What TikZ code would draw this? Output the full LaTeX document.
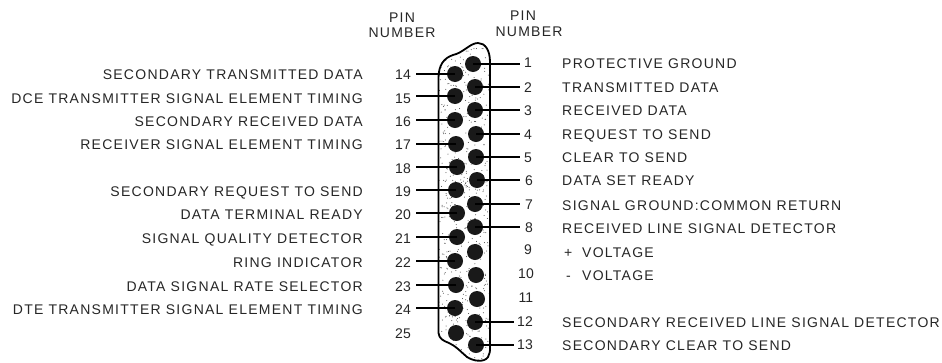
\documentclass[tikz,border=0pt]{standalone}
\usepackage{fontspec}
\setmainfont{Liberation Sans}
\newfontfamily\capsfont[LetterSpace=9]{Liberation Sans}
\tikzset{
	txt/.style={inner sep=0pt,text height=10pt,text depth=0pt,text=black!85,font=\fontsize{14}{16}\capsfont},
	num/.style={inner sep=0pt,text height=10pt,text depth=0pt,text=black!85,font=\fontsize{14}{16}\selectfont},
	pinhole/.style={circle,fill=black!90,minimum size=16pt,inner sep=0pt},
	wire/.style={line width=1.3pt,black}
}
\begin{document}
\begin{tikzpicture}[x=1pt,y=-1pt]
		\useasboundingbox (0,0) rectangle (942,362);
		
		%Shell
		\def\shellpath{(438.5,333) .. controls (439,339) and (444,341) .. (449,343) .. controls (456,346) and (461,352) .. (467,357) .. controls (473,361) and (484,363) .. (488,357) .. controls (490,354) and (490,351) .. (490,347) -- (490,62) .. controls (490,50) and (485,43) .. (478,43) .. controls (470,43) and (463,53) .. (453,55) .. controls (444,58) and (438.5,65) .. (438.5,78) -- cycle}
		\begin{scope}
			\clip \shellpath;
			\pgfmathsetseed{7}
			\foreach \i in {1,...,600}
			\fill[black!75] ({438+52*rnd},{45+315*rnd}) circle (0.5);
		\end{scope}
		\draw[line width=1.8pt,black] \shellpath;
		
		%Pins, top row
		\foreach \n/\x/\y/\e in {1/473/64/520,2/475/87/520,3/475/110/520,4/476/134/520,5/476/157/520,6/477/180/520,7/475/204/520,8/475/227/520,12/475/322/514,13/476/345/514}
		{
			\node[pinhole] (p\n) at (\x,\y) {};
			\coordinate (w\n) at (\e,\y);
			\draw[wire] (p\n.center) -- (w\n);
		}
		\foreach \n/\x/\y in {9/475/252,10/476/275,11/477/299}
		\node[pinhole] (p\n) at (\x,\y) {};
		
		%Pins, bottom row
		\foreach \n/\x/\y in {14/455/74,15/455/96,16/455/120,17/456/144,18/457/167,19/456/190,20/457/213,21/457/237,22/455/261,23/456/285,24/455/308}
		{
			\node[pinhole] (p\n) at (\x,\y) {};
			\coordinate (w\n) at (416,\y);
			\draw[wire] (p\n.center) -- (w\n);
		}
		\node[pinhole] (p25) at (456,333) {};
		
		%Pin numbers
		\foreach \n/\x/\y in {1/528/62,2/528/87,3/528/110,4/528/134,5/528/157,6/529/180,7/529/204,8/529/227,9/528/249,10/526/273,11/526/297,12/525/321,13/525/344}
		\node[num] (n\n) at (\x,\y) {\n};
		\foreach \n/\y in {14/74,15/98,16/121,17/144,18/168,19/191,20/214,21/238,22/262,23/286,24/309,25/333}
		\node[num] (n\n) at (403,\y) {\n};
		
		%Headers
		\node[txt] (pinl) at (402,17) {PIN};
		\node[txt] (numl) at (402,32) {NUMBER};
		\node[txt] (pinr) at (523,15) {PIN};
		\node[txt] (numr) at (529,31) {NUMBER};
		
		%Signal names, left
		\node[txt,anchor=east] (s14) at (363,74) {SECONDARY TRANSMITTED DATA};
		\node[txt,anchor=east] (s15) at (363,98) {DCE TRANSMITTER SIGNAL ELEMENT TIMING};
		\node[txt,anchor=east] (s16) at (363,121) {SECONDARY RECEIVED DATA};
		\node[txt,anchor=east] (s17) at (363,144) {RECEIVER SIGNAL ELEMENT TIMING};
		\node[txt,anchor=east] (s19) at (363,191) {SECONDARY REQUEST TO SEND};
		\node[txt,anchor=east] (s20) at (363,214) {DATA TERMINAL READY};
		\node[txt,anchor=east] (s21) at (363,238) {SIGNAL QUALITY DETECTOR};
		\node[txt,anchor=east] (s22) at (363,262) {RING INDICATOR};
		\node[txt,anchor=east] (s23) at (363,286) {DATA SIGNAL RATE SELECTOR};
		\node[txt,anchor=east] (s24) at (363,309) {DTE TRANSMITTER SIGNAL ELEMENT TIMING};
		
		%Signal names, right
		\node[txt,anchor=west] (s1) at (562,63) {PROTECTIVE GROUND};
		\node[txt,anchor=west] (s2) at (562,87) {TRANSMITTED DATA};
		\node[txt,anchor=west] (s3) at (562,110) {RECEIVED DATA};
		\node[txt,anchor=west] (s4) at (562,134) {REQUEST TO SEND};
		\node[txt,anchor=west] (s5) at (562,157) {CLEAR TO SEND};
		\node[txt,anchor=west] (s6) at (562,180) {DATA SET READY};
		\node[txt,anchor=west] (s7) at (562,205) {SIGNAL GROUND:COMMON RETURN};
		\node[txt,anchor=west] (s8) at (562,228) {RECEIVED LINE SIGNAL DETECTOR};
		\node[txt,anchor=west] (s9) at (564,252) {+};
		\node[txt,anchor=west] (v9) at (582,252) {VOLTAGE};
		\node[txt,anchor=west] (s10) at (566,275) {-};
		\node[txt,anchor=west] (v10) at (582,275) {VOLTAGE};
		\node[txt,anchor=west] (s12) at (562,322) {SECONDARY RECEIVED LINE SIGNAL DETECTOR};
		\node[txt,anchor=west] (s13) at (562,345) {SECONDARY CLEAR TO SEND};
	\end{tikzpicture}
\end{document}
